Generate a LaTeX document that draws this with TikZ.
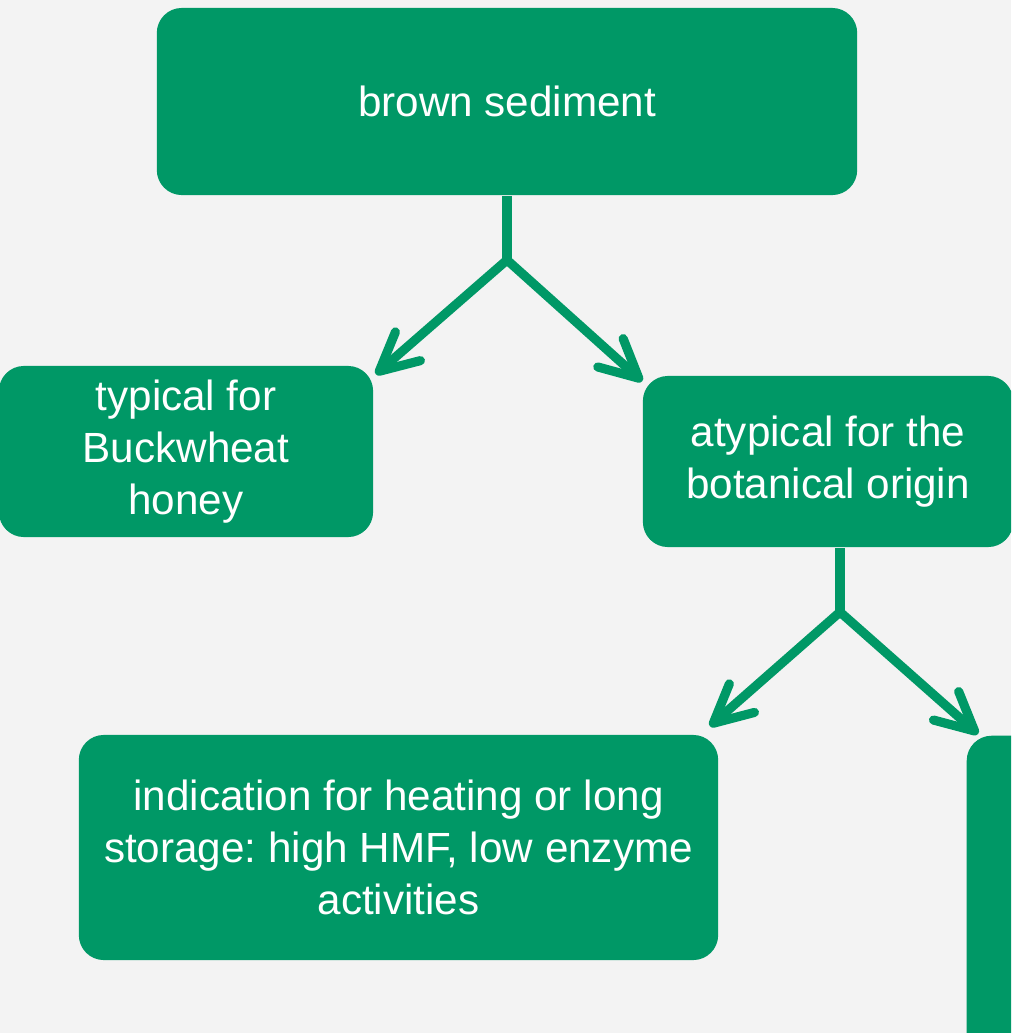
\documentclass[tikz,border=0pt]{standalone}
\usepackage{fontspec}
\setmainfont{Liberation Sans}
\usetikzlibrary{arrows.meta,positioning,calc}
\definecolor{boxgreen}{RGB}{0,152,102}
\definecolor{bggray}{RGB}{243,243,243}
\frenchspacing

\begin{document}
\begin{tikzpicture}[
  x=0.01cm, y=-0.01cm,
  font=\fontsize{12}{14.8}\selectfont,
  box/.style={fill=boxgreen, draw=none, rounded corners=0.25cm,
              text=white, align=center, inner sep=0pt},
  link/.style={boxgreen, line width=2.6pt, line join=round},
  arr/.style={link, -{Straight Barb[length=3.8mm, width=3.8mm, round]}},
]

%% --- Canvas ---
\useasboundingbox (0,0) rectangle (1011,1033);
\fill[bggray] (0,0) rectangle (1011,1033);
\clip (0,0) rectangle (1011,1033);

%% --- Boxes ---
\node[box, minimum width=7.0cm, minimum height=1.87cm] (sed) at (507,101.5) {brown sediment};
\node[box, minimum width=3.74cm, minimum height=1.71cm] (typ) at (186,451.5) {typical for\\Buckwheat\\honey};
\node[box, minimum width=3.70cm, minimum height=1.71cm] (atyp) at (828,461.5) {atypical for the\\botanical origin};
\node[box, minimum width=6.39cm, minimum height=2.25cm] (heat) at (398.5,847.5) {indication for heating or long\\storage: high HMF, low enzyme\\activities};
\node[box, anchor=north west, minimum width=6.4cm, minimum height=3.5cm] (other) at (966,735) {};

%% --- First split ---
\coordinate (fork1) at (507,260);
\draw[link] (sed.south) -- (fork1);
\draw[arr] (fork1) -- ($(typ.north east)+(2,9)$);
\draw[arr] (fork1) -- ($(atyp.north west)+(0,6)$);

%% --- Second split ---
\coordinate (fork2) at (840,612);
\draw[link] ($(atyp.south)+(12,0)$) -- (fork2);
\draw[arr] (fork2) -- ($(heat.north east)+(-9,-8)$);
\draw[arr] (fork2) -- ($(other.north west)+(12,-1)$);

\end{tikzpicture}
\end{document}
